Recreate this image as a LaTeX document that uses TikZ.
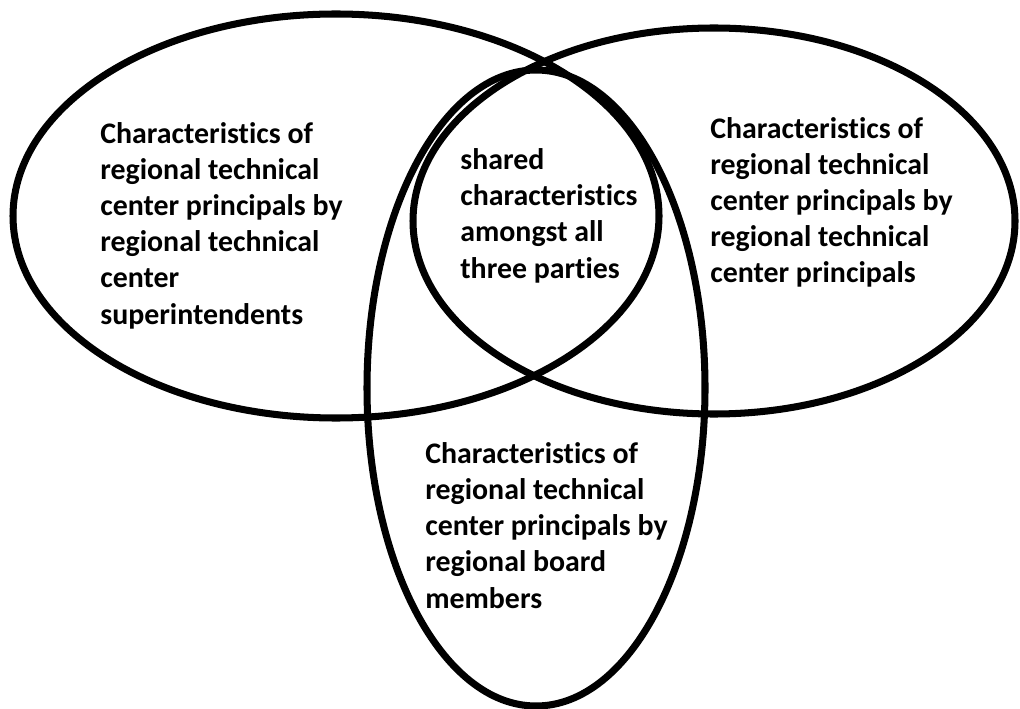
\documentclass[tikz,border=0pt]{standalone}
\usepackage{fontspec}
\setmainfont{Carlito}[Ligatures=CommonOff]
\usetikzlibrary{positioning}
\tikzset{>=latex}

\begin{document}
\begin{tikzpicture}[x=0.02cm,y=-0.02cm,
  ring/.style={line width=4pt},
  vtext/.style={anchor=base west,align=left,inner sep=0pt,
    font=\fontsize{17pt}{20.5pt}\selectfont\bfseries}]
  \useasboundingbox (0,0) rectangle (1020,709);
  % Ellipses
  \draw[ring] (336,216) ellipse [x radius=323, y radius=202];
  \draw[ring] (714,221) ellipse [x radius=301, y radius=193];
  \draw[ring] (536,388) ellipse [x radius=169, y radius=318];
  % Labels (anchored on the last line)
  \node[vtext] (superintendents) at (100,324) {Characteristics of\\regional technical\\center principals by\\regional technical\\center\\superintendents};
  \node[vtext] (principals) at (710,283) {Characteristics of\\regional technical\\center principals by\\regional technical\\center principals};
  \node[vtext] (shared) at (460,278) {shared\\characteristics\\amongst all\\three parties};
  \node[vtext] (board) at (425,608) {Characteristics of\\regional technical\\center principals by\\regional board\\members};
\end{tikzpicture}
\end{document}
